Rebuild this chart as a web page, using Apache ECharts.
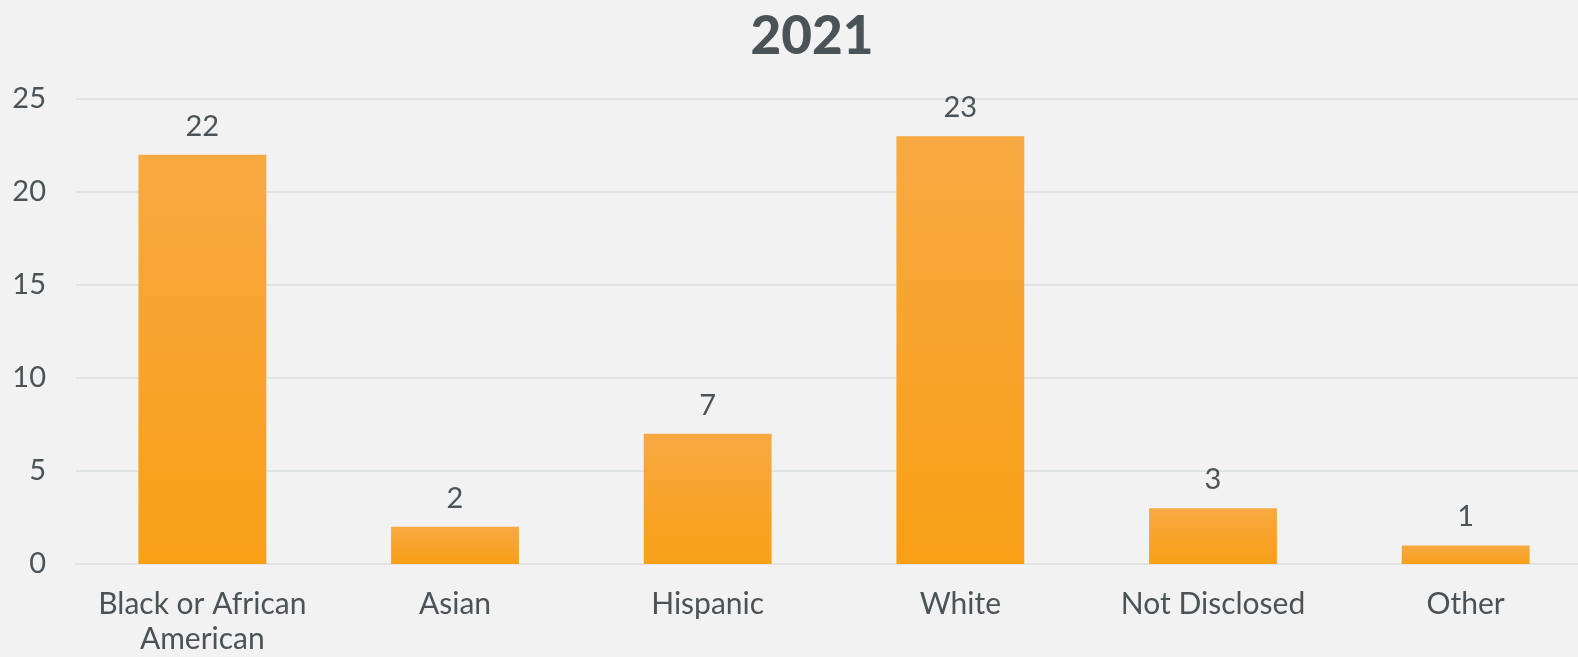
<!DOCTYPE html>
<html>
<head>
<meta charset="utf-8">
<script src="https://cdn.jsdelivr.net/npm/echarts@6/dist/echarts.min.js"></script>
<style>
  html, body { margin: 0; padding: 0; background: #f2f2f2; }
  #wrap { width: 1578px; height: 657px; overflow: hidden; position: relative; }
  /* the source picture is cropped on the right, so the chart is drawn a bit wider than its frame */
  #chartBox { width: 1592px; height: 657px; position: absolute; left: 0; top: 0; }
</style>
</head>
<body>
<div id="wrap"><div id="chartBox"></div></div>
<script>
// categories and values
var categories = ['Black or African\nAmerican', 'Asian', 'Hispanic', 'White', 'Not Disclosed', 'Other'];
var counts = [22, 2, 7, 23, 3, 1];
var yTicks = { min: 0, max: 25, interval: 5 };

var textColor = '#4a5357';
var myChart = echarts.init(document.getElementById('chartBox'));
myChart.setOption({
  backgroundColor: '#f2f2f2',
  textStyle: { fontFamily: 'Lato' },
  title: {
    text: '2021',
    left: 807,
    textAlign: 'center',
    top: 5,
    textStyle: { color: textColor, fontSize: 53, fontWeight: 900, fontFamily: 'Lato' }
  },
  grid: { left: 76, right: 0, top: 99, bottom: 88, containLabel: false },
  xAxis: {
    type: 'category',
    data: categories,
    axisTick: { show: false },
    axisLine: { lineStyle: { color: '#dfe3e3', width: 2 } },
    axisLabel: { color: textColor, fontSize: 30, margin: 23, lineHeight: 35, interval: 0 }
  },
  yAxis: {
    type: 'value',
    min: yTicks.min,
    max: yTicks.max,
    interval: yTicks.interval,
    axisLine: { show: false },
    axisTick: { show: false },
    splitLine: { lineStyle: { color: '#e0e3e3', width: 2 } },
    axisLabel: { color: textColor, fontSize: 29, margin: 30 }
  },
  series: [{
    type: 'bar',
    data: counts,
    barWidth: '50.6%',
    itemStyle: {
      color: {
        type: 'linear', x: 0, y: 0, x2: 0, y2: 1,
        colorStops: [
          { offset: 0, color: '#f7a942' },
          { offset: 1, color: '#f99f16' }
        ]
      }
    },
    label: {
      show: true,
      position: 'top',
      distance: 14,
      color: textColor,
      fontSize: 29
    }
  }]
});
</script>
</body>
</html>
